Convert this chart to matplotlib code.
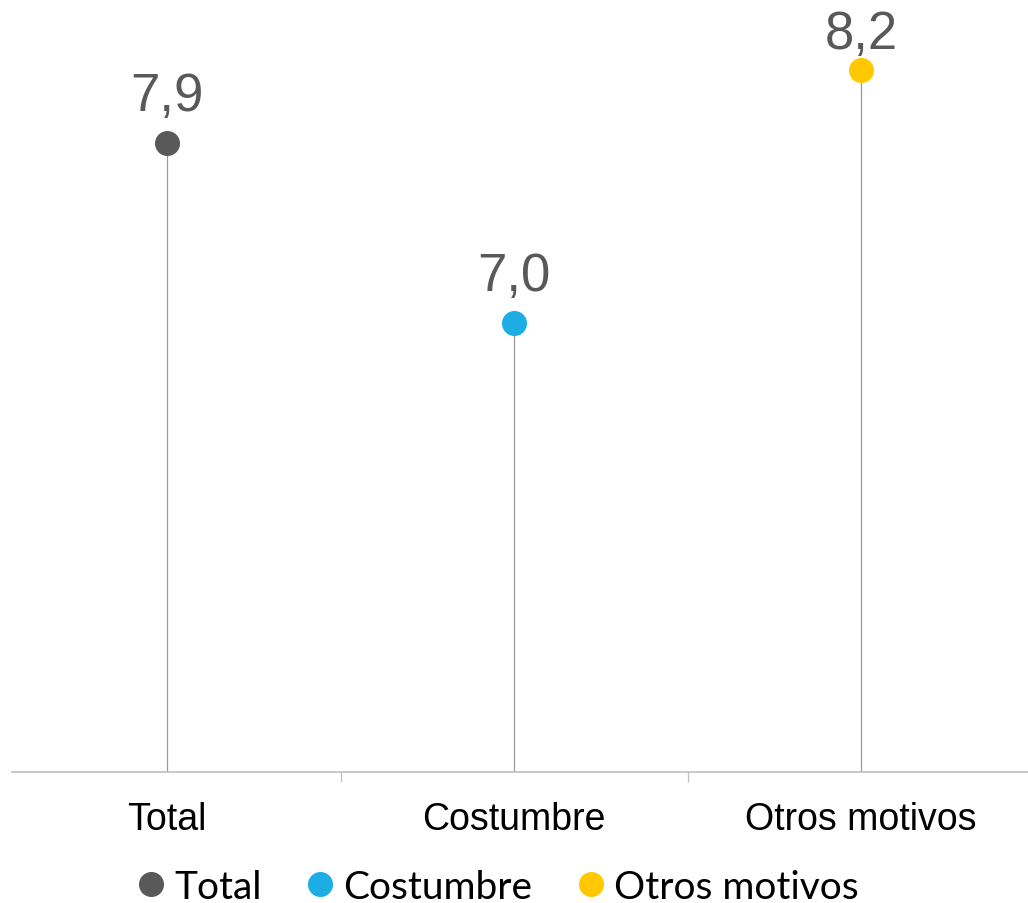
import matplotlib
matplotlib.use("Agg")
import matplotlib.pyplot as plt
from matplotlib.lines import Line2D

categories = ["Total", "Costumbre", "Otros motivos"]
values = [7.86, 7.04, 8.19]
colors = ["#595959", "#1CADE4", "#FFC800"]

Y_MIN = 5.0
PX_PER_UNIT = 220

fig = plt.figure(figsize=(10.28, 9.04), dpi=100)
ax = fig.add_axes([0, 131 / 904, 1, 773 / 904])

x = list(range(len(categories)))

for xi, v, c in zip(x, values, colors):
    ax.vlines(xi, Y_MIN, v, color="#9a9a9a", linewidth=0.9, zorder=1)
    ax.plot(xi, v, "o", color=c, markersize=17, zorder=2)
    # label sits above the dot, pushed down when it would leave the chart
    top_room = (Y_MIN + 773 / PX_PER_UNIT - v) * PX_PER_UNIT
    offset_px = min(33, top_room - 49)
    ax.annotate(
        f"{v:.1f}".replace(".", ","),
        xy=(xi, v),
        xytext=(0, offset_px * 0.72),
        textcoords="offset points",
        ha="center",
        va="baseline",
        fontsize=38,
        color="#595959",
        family="Liberation Sans",
    )

for xi, name in zip(x, categories):
    ax.annotate(
        name,
        xy=(xi, 0),
        xycoords=("data", "axes fraction"),
        xytext=(0, -41),
        textcoords="offset points",
        ha="center",
        va="baseline",
        fontsize=27,
        color="black",
        family="Liberation Sans",
    )

ax.set_xlim(-167 / 347, (1028 - 167) / 347)
ax.set_ylim(Y_MIN, Y_MIN + 773 / PX_PER_UNIT)
for side in ["top", "right", "left", "bottom"]:
    ax.spines[side].set_visible(False)
ax.axhline(Y_MIN, xmin=12 / 1028, xmax=1, color="#bfbfbf", linewidth=1.2, clip_on=False)
ax.set_yticks([])
ax.set_xticks([])
ax.set_xticks([0.5, 1.5], minor=True)
ax.tick_params(axis="x", which="minor", length=7, width=0.9, color="#bfbfbf", direction="out")
ax.set_xticklabels([], minor=True)

handles = [
    Line2D([], [], marker="o", linestyle="none", color=c, markersize=17)
    for c in colors
]
fig.legend(
    handles,
    categories,
    loc="center",
    bbox_to_anchor=(497 / 1028, 1 - 888 / 904),
    ncol=3,
    frameon=False,
    prop={"family": "Lato", "size": 28},
    handlelength=0.8,
    handletextpad=0.2,
    columnspacing=1.1,
    borderpad=0,
)

fig.savefig("out.png", dpi=100)
